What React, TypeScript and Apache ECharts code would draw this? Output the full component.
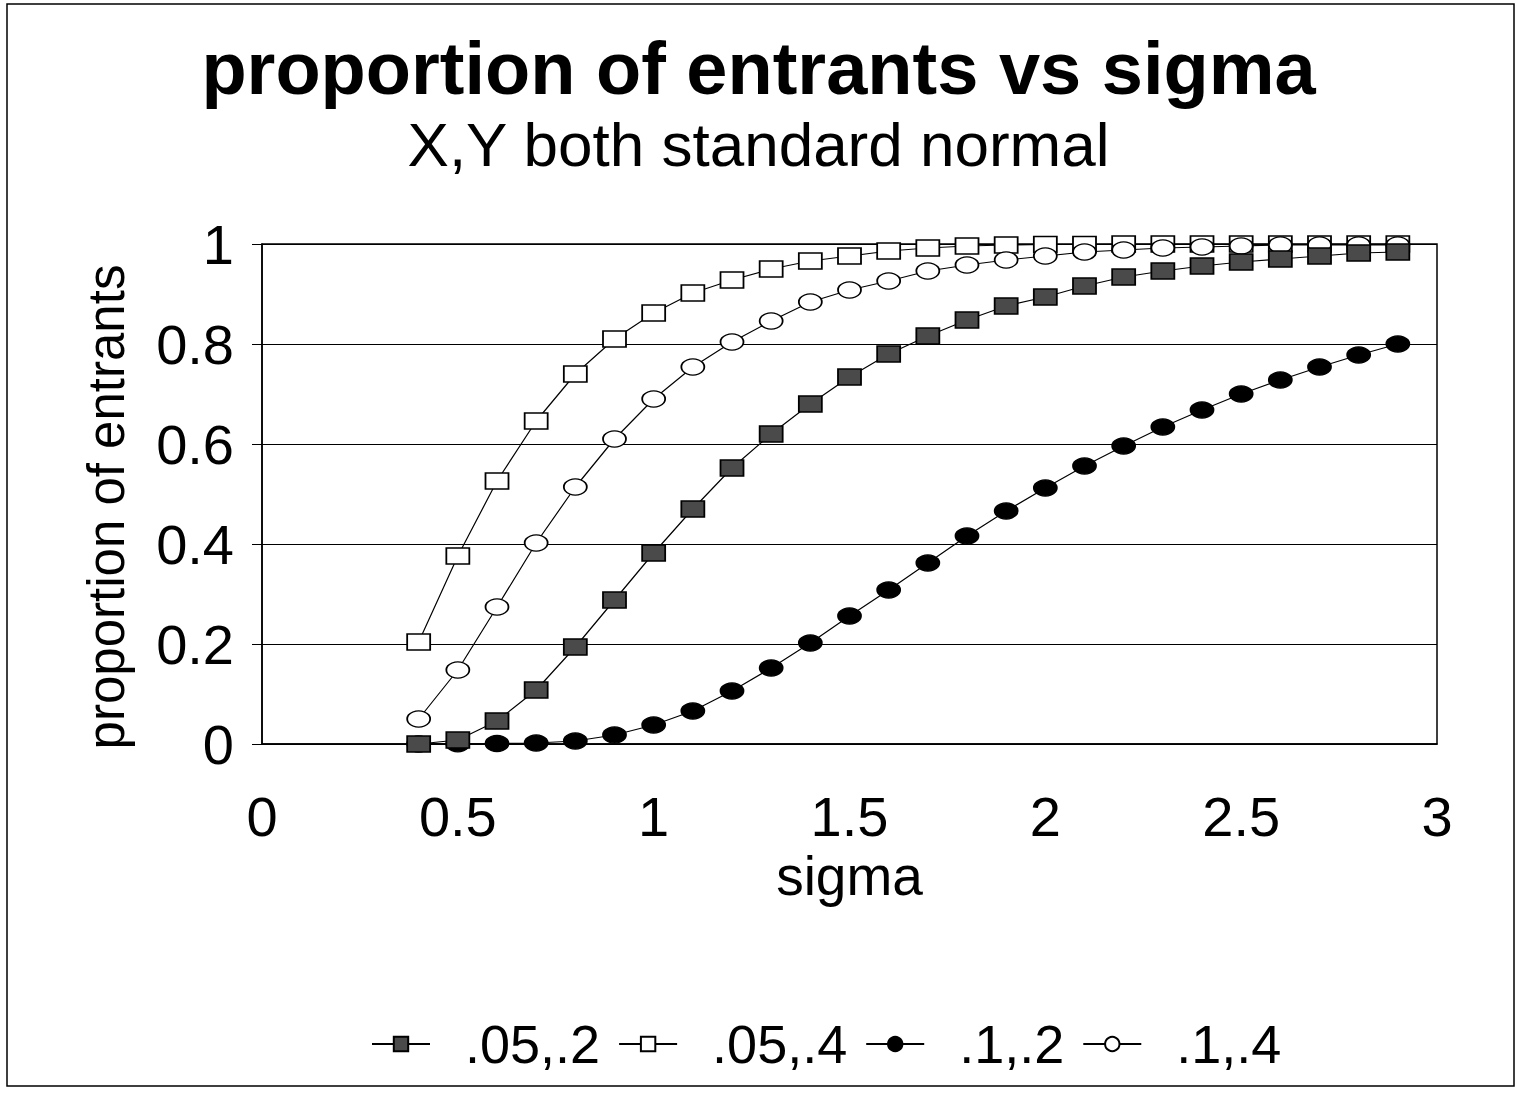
import React, { useEffect, useRef } from "react";
import * as echarts from "echarts";

const titleText = "proportion of entrants vs sigma";
const subtitleText = "X,Y both standard normal";
const xName = "sigma";
const yName = "proportion of entrants";

const sigma = [0.4, 0.5, 0.6, 0.7, 0.8, 0.9, 1.0, 1.1, 1.2, 1.3, 1.4, 1.5, 1.6, 1.7, 1.8, 1.9, 2.0, 2.1, 2.2, 2.3, 2.4, 2.5, 2.6, 2.7, 2.8, 2.9];

const s05_2 = [0.0, 0.008, 0.046, 0.108, 0.194, 0.288, 0.382, 0.47, 0.552, 0.62, 0.68, 0.734, 0.78, 0.816, 0.848, 0.876, 0.894, 0.916, 0.934, 0.946, 0.956, 0.964, 0.97, 0.976, 0.982, 0.984];
const s05_4 = [0.204, 0.376, 0.526, 0.646, 0.74, 0.81, 0.862, 0.902, 0.928, 0.95, 0.966, 0.976, 0.986, 0.992, 0.996, 0.998, 0.999, 0.999, 1.0, 1.0, 1.0, 1.0, 1.0, 1.0, 1.0, 1.0];
const s1_2 = [0.0, 0.0005, 0.001, 0.002, 0.006, 0.018, 0.038, 0.066, 0.106, 0.152, 0.202, 0.256, 0.308, 0.362, 0.416, 0.466, 0.512, 0.556, 0.596, 0.634, 0.668, 0.7, 0.728, 0.754, 0.778, 0.8];
const s1_4 = [0.05, 0.148, 0.274, 0.402, 0.514, 0.61, 0.69, 0.754, 0.804, 0.846, 0.884, 0.908, 0.926, 0.946, 0.958, 0.968, 0.976, 0.984, 0.988, 0.992, 0.994, 0.996, 0.998, 0.998, 0.998, 0.998];

const legendNames = [".05,.2", ".05,.4", ".1,.2", ".1,.4"];

const FONT = "'Liberation Sans', Arial, sans-serif";

function pairs(ys: number[]) {
  return sigma.map((x, i) => [x, ys[i]]);
}

export default function App() {
  const ref = useRef<HTMLDivElement>(null);
  useEffect(() => {
    if (!ref.current) return;
    const chart = echarts.init(ref.current, undefined, { renderer: "svg" });
    const mk = (name: string, ys: number[], symbol: string, fill: string, z: number) => ({
      name,
      type: "line",
      data: pairs(ys),
      symbol,
      symbolSize: [23, 16],
      showAllSymbol: true,
      z,
      lineStyle: { color: "#000", width: 1.2 },
      itemStyle: { color: fill, borderColor: "#000", borderWidth: 1.5 },
    });
    chart.setOption({
      animation: false,
      backgroundColor: "#fff",
      title: [
        {
          text: titleText,
          left: "center",
          top: 26,
          textStyle: { fontFamily: FONT, fontWeight: "bold", fontSize: 74, color: "#000" },
        },
        {
          text: subtitleText,
          left: "center",
          top: 108,
          textStyle: { fontFamily: FONT, fontWeight: "normal", fontSize: 62, color: "#000" },
        },
      ],
      grid: { left: 262, right: 80, top: 244, bottom: 354, show: true, borderColor: "#000", borderWidth: 1.5 },
      xAxis: {
        type: "value",
        min: 0,
        max: 3,
        interval: 0.5,
        name: xName,
        nameLocation: "middle",
        nameGap: 104,
        nameTextStyle: { fontFamily: FONT, fontSize: 55, color: "#000" },
        axisLine: { show: true, onZero: false, lineStyle: { color: "#000", width: 1.5 } },
        axisTick: { show: false },
        splitLine: { show: false },
        axisLabel: { fontFamily: FONT, fontSize: 56, color: "#000", margin: 44 },
      },
      yAxis: {
        type: "value",
        min: 0,
        max: 1,
        interval: 0.2,
        name: yName,
        nameLocation: "middle",
        nameGap: 130,
        nameTextStyle: { fontFamily: FONT, fontSize: 51, color: "#000", padding: [0, 26, 0, 0] },
        axisLine: { show: true, lineStyle: { color: "#000", width: 1.5 } },
        axisTick: { show: true, inside: false, length: 10, lineStyle: { color: "#000" } },
        splitLine: { show: true, lineStyle: { color: "#000", width: 1.2 } },
        axisLabel: { fontFamily: FONT, fontSize: 56, color: "#000", margin: 28 },
      },
      legend: {
        data: legendNames,
        bottom: 22,
        left: 366,
        itemWidth: 58,
        itemHeight: 18,
        itemGap: 18,
        textStyle: { fontFamily: FONT, fontSize: 54, color: "#000", padding: [0, 0, 0, 30] },
      },
      graphic: [
        {
          type: "rect",
          shape: { x: 7, y: 4, width: 1507, height: 1082 },
          style: { fill: "none", stroke: "#000", lineWidth: 1.5 },
          silent: true,
          z: -1,
        },
      ],
      series: [
        mk(legendNames[1], s05_4, "rect", "#fff", 2),
        mk(legendNames[3], s1_4, "circle", "#fff", 3),
        mk(legendNames[2], s1_2, "circle", "#000", 4),
        mk(legendNames[0], s05_2, "rect", "#4a4a4a", 5),
      ],
    });
    return () => chart.dispose();
  }, []);
  return (
    <div
      ref={ref}
      style={{ position: "fixed", left: 0, top: 0, width: 1517, height: 1098, background: "#fff" }}
    />
  );
}
